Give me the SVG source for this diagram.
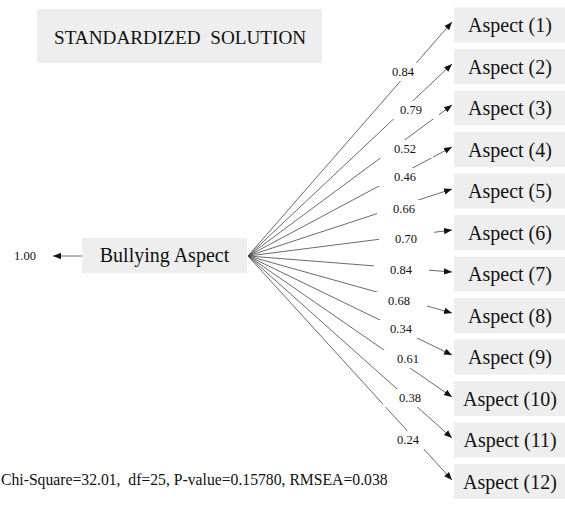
<svg xmlns="http://www.w3.org/2000/svg" width="565" height="508" viewBox="0 0 565 508">
<style>
.box{fill:#eeeeee}
.t{font-family:"Liberation Serif","Times New Roman",serif;fill:#111}
.big{font-size:20px}
.lab{font-size:12.5px;text-anchor:middle}
.lbg{fill:#ffffff}
.ln{stroke:#444;stroke-width:0.8;fill:none}
</style>
<defs>
<marker id="ah" viewBox="0 0 10 10" refX="10" refY="5" markerWidth="8" markerHeight="8" markerUnits="userSpaceOnUse" orient="auto">
<path d="M0,1 L10,5 L0,9 Z" fill="#111"/>
</marker>
</defs>
<rect width="565" height="508" fill="#fff"/>
<g id="title">
<rect class="box" x="37" y="9" width="285" height="54"/>
<text class="t" x="54" y="44" font-size="19.2" xml:space="preserve">STANDARDIZED  SOLUTION</text>
</g>
<g id="connectors">
<line class="ln" x1="82" y1="256" x2="53" y2="256" marker-end="url(#ah)"/>
<line class="ln" x1="248" y1="256" x2="452" y2="22" marker-end="url(#ah)"/>
<line class="ln" x1="248" y1="256" x2="452" y2="64" marker-end="url(#ah)"/>
<line class="ln" x1="248" y1="256" x2="452" y2="105" marker-end="url(#ah)"/>
<line class="ln" x1="248" y1="256" x2="452" y2="147" marker-end="url(#ah)"/>
<line class="ln" x1="248" y1="256" x2="452" y2="189" marker-end="url(#ah)"/>
<line class="ln" x1="248" y1="256" x2="452" y2="230" marker-end="url(#ah)"/>
<line class="ln" x1="248" y1="256" x2="452" y2="272" marker-end="url(#ah)"/>
<line class="ln" x1="248" y1="256" x2="452" y2="313" marker-end="url(#ah)"/>
<line class="ln" x1="248" y1="256" x2="452" y2="355" marker-end="url(#ah)"/>
<line class="ln" x1="248" y1="256" x2="452" y2="397" marker-end="url(#ah)"/>
<line class="ln" x1="248" y1="256" x2="452" y2="438" marker-end="url(#ah)"/>
<line class="ln" x1="248" y1="256" x2="452" y2="480" marker-end="url(#ah)"/>
<g id="labels">
<rect class="lbg" x="376" y="63" width="55" height="18"/><text class="t lab" x="403" y="76">0.84</text>
<rect class="lbg" x="384" y="101" width="55" height="18"/><text class="t lab" x="411" y="114">0.79</text>
<rect class="lbg" x="378" y="140" width="55" height="18"/><text class="t lab" x="405" y="153">0.52</text>
<rect class="lbg" x="378" y="168" width="55" height="18"/><text class="t lab" x="405" y="181">0.46</text>
<rect class="lbg" x="377" y="200" width="55" height="18"/><text class="t lab" x="404" y="213">0.66</text>
<rect class="lbg" x="379" y="230" width="55" height="18"/><text class="t lab" x="406" y="243">0.70</text>
<rect class="lbg" x="374" y="261" width="55" height="18"/><text class="t lab" x="401" y="274">0.84</text>
<rect class="lbg" x="372" y="292" width="55" height="18"/><text class="t lab" x="399" y="305">0.68</text>
<rect class="lbg" x="374" y="320" width="55" height="18"/><text class="t lab" x="401" y="333">0.34</text>
<rect class="lbg" x="381" y="350" width="55" height="18"/><text class="t lab" x="408" y="363">0.61</text>
<rect class="lbg" x="383" y="389" width="55" height="18"/><text class="t lab" x="410" y="402">0.38</text>
<rect class="lbg" x="381" y="431" width="55" height="18"/><text class="t lab" x="408" y="444">0.24</text>
</g>
</g>
<g id="var-label"><text class="t" x="25" y="260" font-size="12.5" text-anchor="middle">1.00</text></g>
<g id="bullying">
<rect class="box" x="82" y="238" width="165" height="35"/>
<text class="t big" x="164.5" y="262" text-anchor="middle">Bullying Aspect</text>
</g>
<g id="aspect1"><rect class="box" x="454" y="7.5" width="111" height="35"/><text class="t big" x="510" y="32" text-anchor="middle">Aspect (1)</text></g>
<g id="aspect2"><rect class="box" x="454" y="49" width="111" height="35"/><text class="t big" x="510" y="73.5" text-anchor="middle">Aspect (2)</text></g>
<g id="aspect3"><rect class="box" x="454" y="90.5" width="111" height="35"/><text class="t big" x="510" y="115" text-anchor="middle">Aspect (3)</text></g>
<g id="aspect4"><rect class="box" x="454" y="132" width="111" height="35"/><text class="t big" x="510" y="156.5" text-anchor="middle">Aspect (4)</text></g>
<g id="aspect5"><rect class="box" x="454" y="173.5" width="111" height="35"/><text class="t big" x="510" y="198" text-anchor="middle">Aspect (5)</text></g>
<g id="aspect6"><rect class="box" x="454" y="215" width="111" height="35"/><text class="t big" x="510" y="239.5" text-anchor="middle">Aspect (6)</text></g>
<g id="aspect7"><rect class="box" x="454" y="256.5" width="111" height="35"/><text class="t big" x="510" y="281" text-anchor="middle">Aspect (7)</text></g>
<g id="aspect8"><rect class="box" x="454" y="298" width="111" height="35"/><text class="t big" x="510" y="322.5" text-anchor="middle">Aspect (8)</text></g>
<g id="aspect9"><rect class="box" x="454" y="339.5" width="111" height="35"/><text class="t big" x="510" y="364" text-anchor="middle">Aspect (9)</text></g>
<g id="aspect10"><rect class="box" x="454" y="381" width="111" height="35"/><text class="t big" x="510" y="405.5" text-anchor="middle">Aspect (10)</text></g>
<g id="aspect11"><rect class="box" x="454" y="422.5" width="111" height="35"/><text class="t big" x="510" y="447" text-anchor="middle">Aspect (11)</text></g>
<g id="aspect12"><rect class="box" x="454" y="464" width="111" height="35"/><text class="t big" x="510" y="488.5" text-anchor="middle">Aspect (12)</text></g>
<g id="footer"><text class="t" x="1" y="485" font-size="15.7" xml:space="preserve">Chi-Square=32.01,  df=25, P-value=0.15780, RMSEA=0.038</text></g>
</svg>
